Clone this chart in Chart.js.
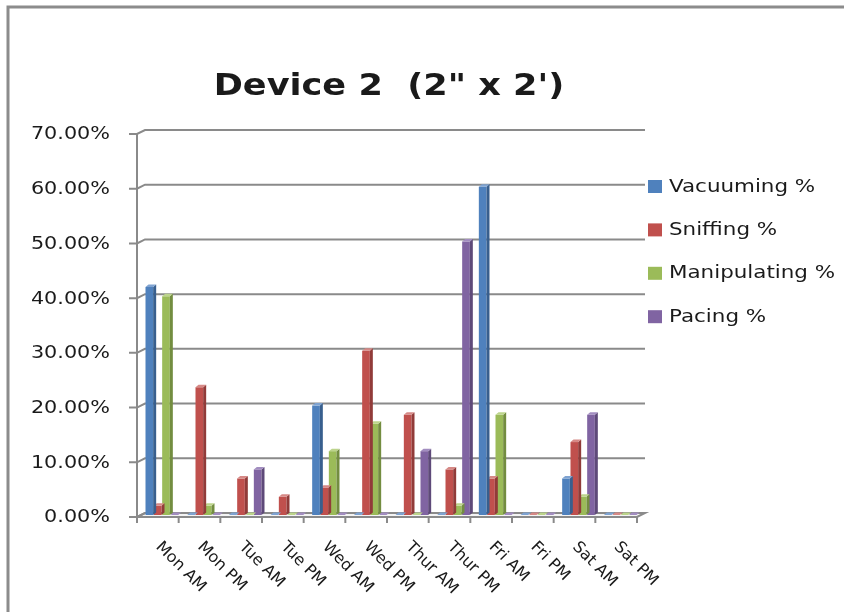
<!DOCTYPE html>
<html>
<head>
<meta charset="utf-8">
<script src="https://cdn.jsdelivr.net/npm/chart.js@4"></script>
<style>
  html, body { margin: 0; padding: 0; background: #fff; }
  #wrap { width: 844px; height: 612px; }
</style>
</head>
<body>
<div id="wrap"><canvas id="c" width="844" height="612"></canvas></div>
<script>
// Daily observation shares (percent of time) per behaviour
const categories = ['Mon AM', 'Mon PM', 'Tue AM', 'Tue PM', 'Wed AM', 'Wed PM',
                    'Thur AM', 'Thur PM', 'Fri AM', 'Fri PM', 'Sat AM', 'Sat PM'];
const vacuuming    = [41.67, 0, 0, 0, 20, 0, 0, 0, 60, 0, 6.67, 0];
const sniffing     = [1.67, 23.33, 6.67, 3.33, 5, 30, 18.33, 8.33, 6.67, 0, 13.33, 0];
const manipulating = [40, 1.67, 0, 0, 11.67, 16.67, 0, 1.67, 18.33, 0, 3.33, 0];
const pacing       = [0, 0, 8.33, 0, 0, 0, 11.67, 50, 0, 0, 18.33, 0];
const seriesNames  = ['Vacuuming %', 'Sniffing %', 'Manipulating %', 'Pacing %'];
const yTicks       = [0, 10, 20, 30, 40, 50, 60, 70];
const titleText    = 'Device 2  (2" x 2\')';

// Face shades for the extruded bars: front, right side, top
const shades = [
  { front: '#4F81BD', side: '#385F8E', top: '#7FA3D1' },
  { front: '#C0504D', side: '#913B39', top: '#D68986' },
  { front: '#9BBB59', side: '#738D40', top: '#BCD48B' },
  { front: '#8064A2', side: '#5E4A79', top: '#A28DC0' }
];

// The plot area is the middle depth plane; the front edge and the back
// wall sit half a depth step in front of / behind it.
const HALF_DX = 4, HALF_DY = 2;
const BAR_DX = 3, BAR_DY = 2.5;       // bar extrusion
const LINE = '#8a8a8a';
const TEXT = '#1a1a1a';

function fmtPct(v) { return v.toFixed(2) + '%'; }

// Text widened horizontally (the chart uses a broad face)
function wideText(ctx, text, x, y, sx, align) {
  ctx.save();
  ctx.translate(x, y);
  ctx.scale(sx, 1);
  ctx.textAlign = align;
  ctx.fillText(text, 0, 0);
  ctx.restore();
}

// Back wall grid, floor slab and value axis
const wallPlugin = {
  id: 'wall',
  beforeDatasetsDraw(chart) {
    const { ctx, chartArea: a, scales: { x, y } } = chart;
    const fl = a.left - HALF_DX, fr = a.right - HALF_DX;   // front plane x
    const bl = a.left + HALF_DX, br = a.right + HALF_DX;   // back plane x
    ctx.save();
    ctx.lineWidth = 2;
    ctx.strokeStyle = LINE;
    // floor
    const fy = y.getPixelForValue(0);
    ctx.fillStyle = '#f4f4f4';
    ctx.beginPath();
    ctx.moveTo(fl, fy + HALF_DY);
    ctx.lineTo(fr, fy + HALF_DY);
    ctx.lineTo(br, fy - HALF_DY);
    ctx.lineTo(bl, fy - HALF_DY);
    ctx.closePath();
    ctx.fill();
    ctx.stroke();
    // grid lines on the back wall with their depth connectors
    yTicks.forEach(v => {
      const py = y.getPixelForValue(v);
      ctx.beginPath();
      ctx.moveTo(fl - 8, py + HALF_DY);
      ctx.lineTo(fl, py + HALF_DY);
      ctx.lineTo(bl, py - HALF_DY);
      ctx.lineTo(br, py - HALF_DY);
      ctx.stroke();
    });
    // value axis
    ctx.beginPath();
    ctx.moveTo(fl, y.getPixelForValue(yTicks[yTicks.length - 1]) + HALF_DY);
    ctx.lineTo(fl, fy + HALF_DY);
    ctx.stroke();
    // category tick marks
    const half = (x.getPixelForValue(1) - x.getPixelForValue(0)) / 2;
    for (let i = 0; i <= categories.length; i++) {
      const px = (i < categories.length ? x.getPixelForValue(i) - half
                                        : x.getPixelForValue(i - 1) + half) - HALF_DX;
      ctx.beginPath();
      ctx.moveTo(px, fy + HALF_DY);
      ctx.lineTo(px, fy + HALF_DY + 6);
      ctx.stroke();
    }
    ctx.restore();
  }
};

// Side and top faces for each bar, drawn right after its own dataset
const depthPlugin = {
  id: 'depth',
  afterDatasetDraw(chart, args) {
    const { ctx } = chart;
    const s = shades[args.index];
    ctx.save();
    args.meta.data.forEach(bar => {
      const p = bar.getProps(['x', 'y', 'base', 'width'], true);
      const l = p.x - p.width / 2, r = p.x + p.width / 2;
      const top = Math.min(p.y, p.base), base = p.base;
      // side
      ctx.fillStyle = s.side;
      ctx.beginPath();
      ctx.moveTo(r, base);
      ctx.lineTo(r, top);
      ctx.lineTo(r + BAR_DX, top - BAR_DY);
      ctx.lineTo(r + BAR_DX, base - BAR_DY);
      ctx.closePath();
      ctx.fill();
      // top
      ctx.fillStyle = s.top;
      ctx.beginPath();
      ctx.moveTo(l, top);
      ctx.lineTo(r, top);
      ctx.lineTo(r + BAR_DX, top - BAR_DY);
      ctx.lineTo(l + BAR_DX, top - BAR_DY);
      ctx.closePath();
      ctx.fill();
    });
    ctx.restore();
  }
};

// Title, axis labels, legend and the outer frame
const textPlugin = {
  id: 'texts',
  beforeDraw(chart) {
    const { ctx } = chart;
    ctx.save();
    ctx.fillStyle = '#fff';
    ctx.fillRect(0, 0, chart.width, chart.height);
    ctx.restore();
  },
  afterDraw(chart) {
    const { ctx, chartArea: a, scales: { x, y } } = chart;
    ctx.save();

    // frame
    ctx.strokeStyle = '#8c8c8c';
    ctx.lineWidth = 3;
    ctx.beginPath();
    ctx.moveTo(8, chart.height);
    ctx.lineTo(8, 7);
    ctx.lineTo(chart.width, 7);
    ctx.stroke();

    ctx.fillStyle = TEXT;
    ctx.textBaseline = 'middle';

    // title
    ctx.font = 'bold 30px "DejaVu Sans"';
    wideText(ctx, titleText, 389, 87, 1.17, 'center');

    // value axis labels
    ctx.font = '17px "DejaVu Sans"';
    yTicks.forEach(v => {
      wideText(ctx, fmtPct(v), 110, y.getPixelForValue(v) + HALF_DY + 1, 1.22, 'right');
    });

    // category labels, slanted downwards
    ctx.font = '16px "DejaVu Sans"';
    ctx.textAlign = 'left';
    ctx.textBaseline = 'top';
    categories.forEach((c, i) => {
      ctx.save();
      ctx.translate(x.getPixelForValue(i) + 2, a.bottom + 24);
      ctx.rotate(Math.PI / 4);
      ctx.fillText(c, 0, 0);
      ctx.restore();
    });

    // legend
    ctx.font = '18px "DejaVu Sans"';
    ctx.textBaseline = 'middle';
    chart.data.datasets.forEach((ds, i) => {
      const cy = 187 + i * 43.4;
      ctx.fillStyle = ds.backgroundColor;
      ctx.fillRect(648, cy - 7, 14, 13);
      ctx.fillStyle = TEXT;
      wideText(ctx, ds.label, 669, cy, 1.19, 'left');
    });

    ctx.restore();
  }
};

const seriesValues = [vacuuming, sniffing, manipulating, pacing];

new Chart(document.getElementById('c'), {
  type: 'bar',
  data: {
    labels: categories,
    datasets: seriesValues.map((vals, i) => ({
      label: seriesNames[i],
      data: vals,
      backgroundColor: shades[i].front,
      borderWidth: 0,
      categoryPercentage: 0.8,
      barPercentage: 0.92
    }))
  },
  options: {
    responsive: false,
    devicePixelRatio: 1,
    animation: false,
    layout: { padding: { left: 141, right: 203, top: 132, bottom: 97 } },
    plugins: {
      legend: { display: false },
      title: { display: false },
      tooltip: { enabled: false }
    },
    scales: {
      x: { display: false },
      y: { display: false, min: 0, max: 70 }
    }
  },
  plugins: [wallPlugin, depthPlugin, textPlugin]
});
</script>
</body>
</html>
